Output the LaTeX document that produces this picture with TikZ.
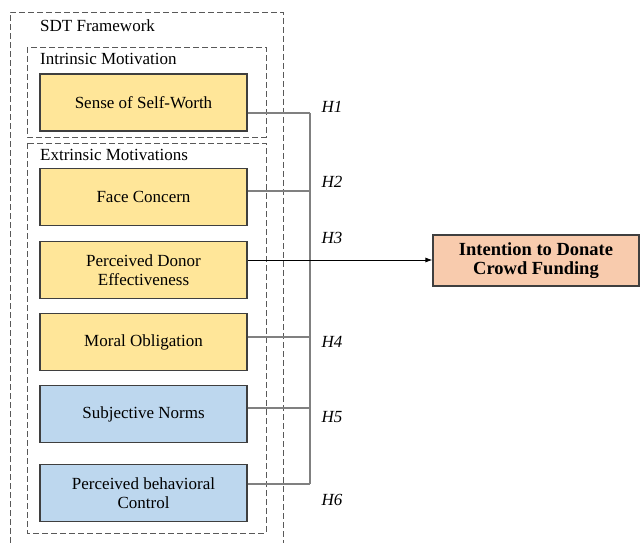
\documentclass[tikz,border=0pt]{standalone}
\usepackage{fontspec}
\setmainfont{Liberation Serif}
\newfontfamily\figfont{Liberation Serif}
\usetikzlibrary{positioning,calc,arrows.meta}
\definecolor{sdtyellow}{HTML}{FFE699}
\definecolor{sdtblue}{HTML}{BDD7EE}
\definecolor{sdtpeach}{HTML}{F8CBAD}
\definecolor{boxline}{HTML}{3F3F3F}
\definecolor{linkgray}{HTML}{808080}
\tikzset{
	factor/.style={draw=boxline, line width=1.1pt, minimum width=207pt, minimum height=57pt, align=center, inner sep=2pt, font=\figfont\fontsize{17}{19}\selectfont},
	intrbox/.style={factor, fill=sdtyellow},
	extrbox/.style={factor, fill=sdtblue},
	outcome/.style={factor, fill=sdtpeach, minimum width=206pt, minimum height=51pt, font=\figfont\bfseries\fontsize{18.5}{19}\selectfont},
	group/.style={draw=gray!70!black, line width=0.9pt, dash pattern=on 6pt off 3pt},
	grouplabel/.style={anchor=west, inner sep=0pt, font=\figfont\fontsize{17}{19}\selectfont},
	link/.style={draw=linkgray, line width=1.1pt},
	hyp/.style={inner sep=0pt, font=\figfont\itshape\fontsize{17}{19}\selectfont},
	diredge/.style={-{Latex[length=7pt,width=5pt]}, line width=0.9pt, color=black}
}
\begin{document}
\begin{tikzpicture}[x=1pt,y=-1pt]
	\useasboundingbox (0,0) rectangle (641,543);
	
	% dashed groups
	\draw [group] (10,543) -- (10,12) -- (283,12) -- (283,543);
	\draw [group] (27,47) rectangle (266,137);
	\draw [group] (27,143) rectangle (266,533);
	\node [grouplabel] (sdt) at (40,26) {SDT Framework};
	\node [grouplabel] (intr) at (40,59) {Intrinsic Motivation};
	\node [grouplabel] (extr) at (40,155) {Extrinsic Motivations};
	
	% factors
	\node [intrbox] (ssw) at (143.5,102.5) {Sense of Self-Worth};
	\node [intrbox] (fc) at (143.5,197) {Face Concern};
	\node [intrbox] (pde) at (143.5,270) {Perceived Donor\\Effectiveness};
	\node [intrbox] (mo) at (143.5,342) {Moral Obligation};
	\node [extrbox] (sn) at (143.5,414) {Subjective Norms};
	\node [extrbox] (pbc) at (143.5,493) {Perceived behavioral\\Control};
	\node [outcome] (itd) at (536,260.5) {Intention to Donate\\Crowd Funding};
	
	% bus
	\coordinate (b1) at (310,113);
	\coordinate (b2) at (310,191);
	\coordinate (b3) at (310,260);
	\coordinate (b4) at (310,337);
	\coordinate (b5) at (310,408);
	\coordinate (b6) at (310,484);
	\draw [link] (b1) -- (b6);
	\draw [link] (ssw.east |- b1) -- (b1);
	\draw [link] (fc.east |- b2) -- (b2);
	\draw [link] (mo.east |- b4) -- (b4);
	\draw [link] (sn.east |- b5) -- (b5);
	\draw [link] (pbc.east |- b6) -- (b6);
	\draw [diredge] (pde.east |- b3) -- (itd.west |- b3);
	
	% hypotheses
	\node [hyp] (h1) at (332,107) {H1};
	\node [hyp] (h2) at (332,182) {H2};
	\node [hyp] (h3) at (332,238) {H3};
	\node [hyp] (h4) at (332,342) {H4};
	\node [hyp] (h5) at (332,417) {H5};
	\node [hyp] (h6) at (332,500) {H6};
	
\end{tikzpicture}
\end{document}
